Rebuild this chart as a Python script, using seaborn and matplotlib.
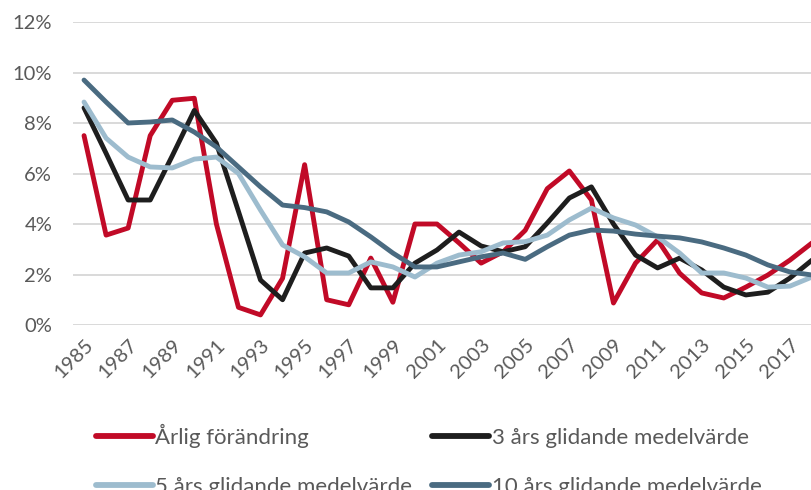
import matplotlib
matplotlib.use("Agg")
import matplotlib.pyplot as plt
import seaborn as sns
import pandas as pd
import numpy as np
from matplotlib.lines import Line2D

years = list(range(1985, 2019))

arlig = [7.5, 3.56, 3.84, 7.5, 8.9, 8.98, 4.0, 0.7, 0.4, 1.85, 6.35, 1.0, 0.8, 2.65,
         0.9, 4.0, 4.0, 3.25, 2.45, 2.9, 3.75, 5.4, 6.1, 4.95, 0.87, 2.45, 3.37, 2.05,
         1.27, 1.07, 1.5, 1.98, 2.57, 3.25]
tre_ar = [8.6, 6.8, 4.95, 4.95, 6.7, 8.5, 7.2, 4.5, 1.78, 1.0, 2.85, 3.05, 2.73, 1.47,
          1.47, 2.45, 2.97, 3.68, 3.13, 2.9, 3.1, 4.04, 5.03, 5.47, 4.0, 2.77, 2.26, 2.65,
          2.18, 1.5, 1.19, 1.3, 1.86, 2.57]
fem_ar = [8.83, 7.4, 6.65, 6.26, 6.22, 6.57, 6.65, 6.0, 4.55, 3.17, 2.7, 2.06, 2.06, 2.5,
          2.3, 1.9, 2.45, 2.77, 2.9, 3.25, 3.3, 3.56, 4.16, 4.63, 4.24, 3.96, 3.49, 2.85,
          2.06, 2.06, 1.86, 1.5, 1.54, 1.9]
tio_ar = [9.7, 8.83, 8.0, 8.04, 8.12, 7.64, 7.05, 6.26, 5.47, 4.75, 4.65, 4.48, 4.08, 3.49,
          2.85, 2.3, 2.3, 2.5, 2.7, 2.85, 2.6, 3.1, 3.56, 3.76, 3.72, 3.6, 3.52, 3.45,
          3.29, 3.05, 2.77, 2.38, 2.1, 1.98]

series_names = ["Årlig förändring", "3 års glidande medelvärde",
                "5 års glidande medelvärde", "10 års glidande medelvärde"]
colors = ["#C10A27", "#1E1E1E", "#9DBCCE", "#4A6B81"]
y_ticks = [0, 2, 4, 6, 8, 10, 12]
x_tick_years = list(range(1985, 2018, 2))

df = pd.concat([
    pd.DataFrame({"år": years, "värde": vals, "serie": name})
    for name, vals in zip(series_names, [arlig, tre_ar, fem_ar, tio_ar])
])

sns.set_theme(style="white")
plt.rcParams["font.family"] = ["Lato", "DejaVu Sans"]
text_color = "#595959"

fig = plt.figure(figsize=(8.12, 4.90), dpi=100)
ax = fig.add_axes([73 / 812, 1 - 325 / 490, 1 - 73 / 812, (325 - 22) / 490])

sns.lineplot(data=df, x="år", y="värde", hue="serie", hue_order=series_names,
             palette=colors, linewidth=3.5, ax=ax, legend=False, sort=False)

ax.set_xlim(1984.5, 2018.0)
ax.set_ylim(0, 12)
ax.set_yticks(y_ticks)
ax.set_yticklabels([f"{v}%" for v in y_ticks], color=text_color, fontsize=14.5)
ax.set_xticks(x_tick_years)
ax.set_xticklabels([str(y) for y in x_tick_years], rotation=45, ha="right",
                   rotation_mode="anchor", color=text_color, fontsize=14.5)
ax.tick_params(axis="y", length=0, pad=15)
ax.tick_params(axis="x", length=0, pad=8)
ax.grid(axis="y", color="#D9D9D9", linewidth=1.4)
ax.grid(axis="x", visible=False)
ax.set_axisbelow(True)
for s in ax.spines.values():
    s.set_visible(False)
ax.set_xlabel("")
ax.set_ylabel("")

handles = [Line2D([0], [0], color=c, linewidth=4.2, solid_capstyle="round") for c in colors]
order = [0, 2, 1, 3]
fig.legend([handles[i] for i in order], [series_names[i] for i in order],
           loc="upper left", bbox_to_anchor=(96 / 812, 1 - 424 / 490), ncol=2,
           frameon=False, fontsize=16, labelcolor=text_color, handlelength=2.55,
           handletextpad=0.12, columnspacing=0.9, labelspacing=1.3, borderpad=0,
           borderaxespad=0)

fig.savefig("out.png", dpi=100)
